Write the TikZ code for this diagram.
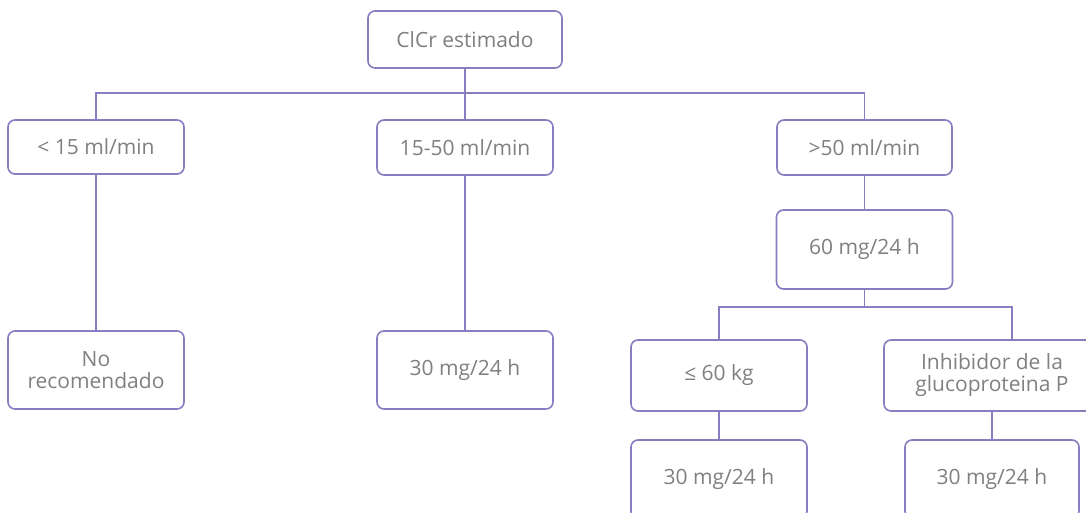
\documentclass[tikz,border=0pt]{standalone}
\usepackage{fontspec}
\setmainfont{Open Sans}
\definecolor{linec}{HTML}{8A7CC0}
\definecolor{txtc}{HTML}{808080}
\begin{document}
\begin{tikzpicture}[x=1pt,y=-1pt,
  box/.style={draw=linec,line width=1.6pt,rounded corners=7pt,fill=white,inner sep=0pt,
    text=txtc,font=\fontsize{21}{22}\selectfont,align=center},
  conn/.style={draw=linec,line width=1.6pt}]
\useasboundingbox (0,0) rectangle (1086,512);
\clip (0,0) rectangle (1086,512);
\fill[white] (0,0) rectangle (1086,512);
\node[box,minimum width=194pt,minimum height=57pt] (root) at (465,39.5) {ClCr estimado};
\node[box,minimum width=176pt,minimum height=54pt] (a) at (96,147) {< 15 ml/min};
\node[box,minimum width=176pt,minimum height=55pt] (b) at (465,147.5) {15-50 ml/min};
\node[box,minimum width=175pt,minimum height=55pt] (c) at (864.5,147.5) {>50 ml/min};
\node[box,minimum width=176pt,minimum height=79pt] (c2) at (864.5,249.5) {60 mg/24 h};
\node[box,minimum width=176pt,minimum height=78pt] (a2) at (96,370) {No\\recomendado};
\node[box,minimum width=176pt,minimum height=78pt] (b2) at (465,370) {30 mg/24 h};
\node[box,minimum width=176pt,minimum height=71pt] (d) at (719,375.5) {≤ 60 kg};
\node[box,minimum width=216pt,minimum height=71pt] (e) at (992,375.5) {Inhibidor de la\\glucoproteina P};
\node[box,minimum width=176pt,minimum height=78pt] (d2) at (719,479) {30 mg/24 h};
\node[box,minimum width=174pt,minimum height=78pt] (e2) at (992,479) {30 mg/24 h};
\coordinate (j1) at (465,93);
\coordinate (j2) at (864.5,307);
\coordinate (et) at (1012,340);
\draw[conn] (root.south) -- (j1);
\draw[conn] (a.north) |- (j1);
\draw[conn] (c.north) |- (j1);
\draw[conn] (b.north) -- (j1);
\draw[conn] (a.south) -- (a2.north);
\draw[conn] (b.south) -- (b2.north);
\draw[conn] (c.south) -- (c2.north);
\draw[conn] (c2.south) -- (j2);
\draw[conn] (d.north) |- (j2);
\draw[conn] (et) |- (j2);
\draw[conn] (d.south) -- (d2.north);
\draw[conn] (e.south) -- (e2.north);
\end{tikzpicture}
\end{document}
